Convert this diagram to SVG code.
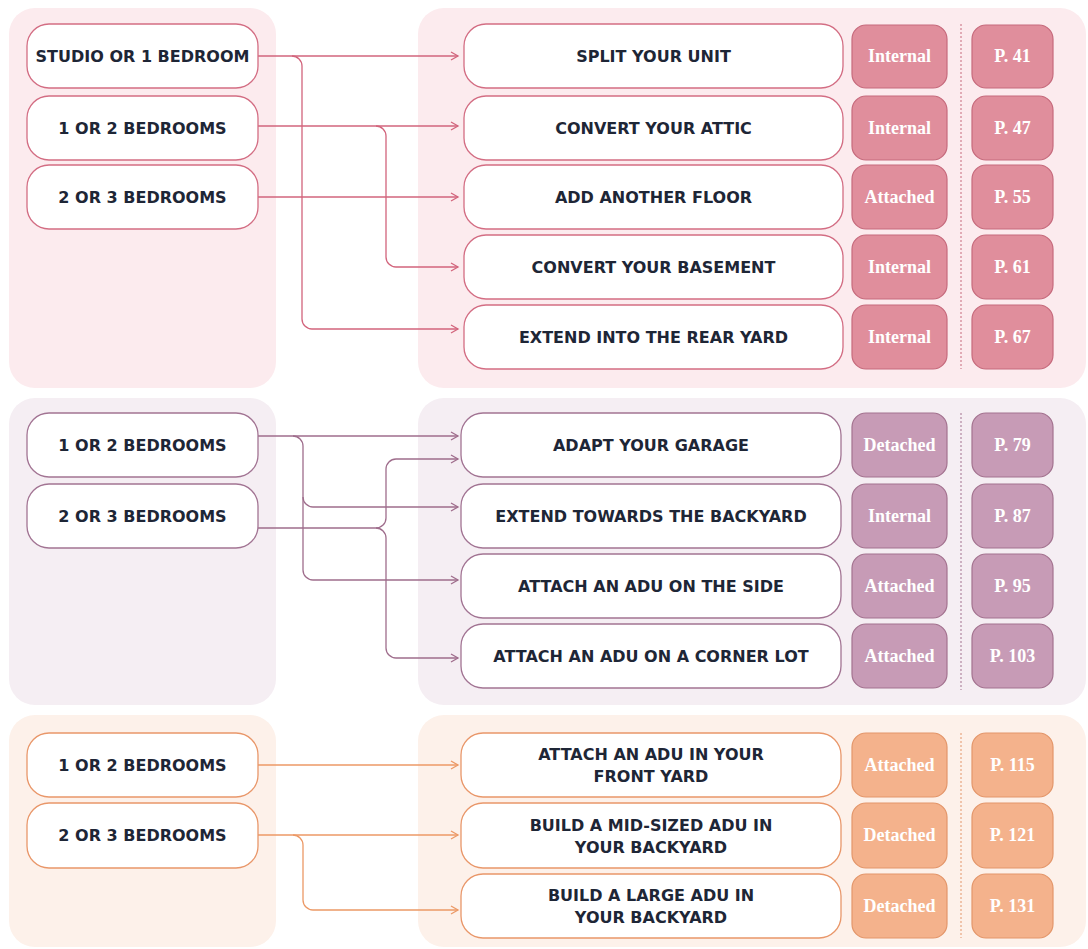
<svg xmlns="http://www.w3.org/2000/svg" width="1088" height="949" viewBox="0 0 1088 949">
<style>
.bg{fill:#ffffff}
.p1{fill:#fcebee}.p2{fill:#f5eef3}.p3{fill:#fdf1ea}
.n1,.n2,.n3{fill:#ffffff;stroke-width:1.3}
.n1{stroke:#d36d83}.n2{stroke:#a27493}.n3{stroke:#e9976a}
.t1,.t2,.t3{stroke-width:1.2}
.t1{fill:#e08e9c;stroke:#c66a7c}.t2{fill:#c79bb6;stroke:#a3728f}.t3{fill:#f4b28c;stroke:#e3966a}
.lab{font-family:"DejaVu Sans","Liberation Sans",sans-serif;font-weight:bold;font-size:16px;fill:#1e2636;text-anchor:middle;dominant-baseline:central}
.tag{font-family:"Liberation Serif","DejaVu Serif",serif;font-weight:bold;font-size:18px;fill:#ffffff;text-anchor:middle;dominant-baseline:central}
.c{fill:none;stroke-width:1.3}
.c1{stroke:#d2647c}.c2{stroke:#9f6d8c}.c3{stroke:#ec9966}
.dot{stroke-width:1;stroke-dasharray:2 2;fill:none}
</style>
<defs>
<marker id="a1" markerUnits="userSpaceOnUse" markerWidth="10" markerHeight="10" refX="8" refY="5" orient="auto"><path d="M1,1 L8,5 L1,9" fill="none" stroke="#d2647c" stroke-width="1.3"/></marker>
<marker id="a2" markerUnits="userSpaceOnUse" markerWidth="10" markerHeight="10" refX="8" refY="5" orient="auto"><path d="M1,1 L8,5 L1,9" fill="none" stroke="#9f6d8c" stroke-width="1.3"/></marker>
<marker id="a3" markerUnits="userSpaceOnUse" markerWidth="10" markerHeight="10" refX="8" refY="5" orient="auto"><path d="M1,1 L8,5 L1,9" fill="none" stroke="#ec9966" stroke-width="1.3"/></marker>
</defs>
<rect class="bg" width="1088" height="949"/>
<g id="panels">
<rect class="p1" x="9" y="8" width="267" height="380" rx="26"/>
<rect class="p1" x="418" y="8" width="668" height="380" rx="26"/>
<rect class="p2" x="9" y="398" width="267" height="307" rx="26"/>
<rect class="p2" x="418" y="398" width="668" height="307" rx="26"/>
<rect class="p3" x="9" y="715" width="267" height="232" rx="26"/>
<rect class="p3" x="418" y="715" width="668" height="232" rx="26"/>
<line class="dot" x1="961" y1="24" x2="961" y2="369" stroke="#c66a7c"/>
<line class="dot" x1="961" y1="413" x2="961" y2="690" stroke="#a3728f"/>
<line class="dot" x1="961" y1="733" x2="961" y2="938" stroke="#e3966a"/>
</g>
<g id="connectors">
<path class="c c1" d="M258,56 H458" marker-end="url(#a1)"/>
<path class="c c1" d="M292,56 a10,10 0 0 1 10,10 V319 a10,10 0 0 0 10,10 H458" marker-end="url(#a1)"/>
<path class="c c1" d="M258,126 H458" marker-end="url(#a1)"/>
<path class="c c1" d="M376,126 a10,10 0 0 1 10,10 V257 a10,10 0 0 0 10,10 H458" marker-end="url(#a1)"/>
<path class="c c1" d="M258,197 H458" marker-end="url(#a1)"/>
<path class="c c2" d="M258,436 H458" marker-end="url(#a2)"/>
<path class="c c2" d="M293,436 a10,10 0 0 1 10,10 V570 a10,10 0 0 0 10,10 H458" marker-end="url(#a2)"/>
<path class="c c2" d="M303,497 a10,10 0 0 0 10,10 H458" marker-end="url(#a2)"/>
<path class="c c2" d="M258,528 H376 a10,10 0 0 0 10,-10 V469 a10,10 0 0 1 10,-10 H458" marker-end="url(#a2)"/>
<path class="c c2" d="M376,528 a10,10 0 0 1 10,10 V648 a10,10 0 0 0 10,10 H458" marker-end="url(#a2)"/>
<path class="c c3" d="M258,765 H458" marker-end="url(#a3)"/>
<path class="c c3" d="M258,835 H458" marker-end="url(#a3)"/>
<path class="c c3" d="M293,835 a10,10 0 0 1 10,10 V900 a10,10 0 0 0 10,10 H458" marker-end="url(#a3)"/>
</g>
<g id="s1-studio"><rect class="n1" x="27" y="24" width="231" height="64" rx="22"/><text class="lab" x="142.5" y="56">STUDIO OR 1 BEDROOM</text></g>
<g id="s1-12"><rect class="n1" x="27" y="96" width="231" height="64" rx="22"/><text class="lab" x="142.5" y="128">1 OR 2 BEDROOMS</text></g>
<g id="s1-23"><rect class="n1" x="27" y="165" width="231" height="64" rx="22"/><text class="lab" x="142.5" y="197">2 OR 3 BEDROOMS</text></g>
<g id="split"><rect class="n1" x="464" y="24" width="379" height="64" rx="22"/><text class="lab" x="653.5" y="56">SPLIT YOUR UNIT</text><rect class="t1" x="852" y="25" width="95" height="63" rx="14"/><text class="tag" x="899.5" y="56">Internal</text><rect class="t1" x="972" y="25" width="81" height="63" rx="14"/><text class="tag" x="1012.5" y="56">P. 41</text></g>
<g id="attic"><rect class="n1" x="464" y="96" width="379" height="64" rx="22"/><text class="lab" x="653.5" y="128">CONVERT YOUR ATTIC</text><rect class="t1" x="852" y="96" width="95" height="64" rx="14"/><text class="tag" x="899.5" y="128">Internal</text><rect class="t1" x="972" y="96" width="81" height="64" rx="14"/><text class="tag" x="1012.5" y="128">P. 47</text></g>
<g id="floor"><rect class="n1" x="464" y="165" width="379" height="64" rx="22"/><text class="lab" x="653.5" y="197">ADD ANOTHER FLOOR</text><rect class="t1" x="852" y="165" width="95" height="64" rx="14"/><text class="tag" x="899.5" y="197">Attached</text><rect class="t1" x="972" y="165" width="81" height="64" rx="14"/><text class="tag" x="1012.5" y="197">P. 55</text></g>
<g id="basement"><rect class="n1" x="464" y="235" width="379" height="64" rx="22"/><text class="lab" x="653.5" y="267">CONVERT YOUR BASEMENT</text><rect class="t1" x="852" y="235" width="95" height="64" rx="14"/><text class="tag" x="899.5" y="267">Internal</text><rect class="t1" x="972" y="235" width="81" height="64" rx="14"/><text class="tag" x="1012.5" y="267">P. 61</text></g>
<g id="rear"><rect class="n1" x="464" y="305" width="379" height="64" rx="22"/><text class="lab" x="653.5" y="337">EXTEND INTO THE REAR YARD</text><rect class="t1" x="852" y="305" width="95" height="64" rx="14"/><text class="tag" x="899.5" y="337">Internal</text><rect class="t1" x="972" y="305" width="81" height="64" rx="14"/><text class="tag" x="1012.5" y="337">P. 67</text></g>
<g id="s2-12"><rect class="n2" x="27" y="413" width="231" height="64" rx="22"/><text class="lab" x="142.5" y="445">1 OR 2 BEDROOMS</text></g>
<g id="s2-23"><rect class="n2" x="27" y="484" width="231" height="64" rx="22"/><text class="lab" x="142.5" y="516">2 OR 3 BEDROOMS</text></g>
<g id="garage"><rect class="n2" x="461" y="413" width="380" height="64" rx="22"/><text class="lab" x="651" y="445">ADAPT YOUR GARAGE</text><rect class="t2" x="852" y="413" width="95" height="64" rx="14"/><text class="tag" x="899.5" y="445">Detached</text><rect class="t2" x="972" y="413" width="81" height="64" rx="14"/><text class="tag" x="1012.5" y="445">P. 79</text></g>
<g id="backyard"><rect class="n2" x="461" y="484" width="380" height="64" rx="22"/><text class="lab" x="651" y="516">EXTEND TOWARDS THE BACKYARD</text><rect class="t2" x="852" y="484" width="95" height="64" rx="14"/><text class="tag" x="899.5" y="516">Internal</text><rect class="t2" x="972" y="484" width="81" height="64" rx="14"/><text class="tag" x="1012.5" y="516">P. 87</text></g>
<g id="side"><rect class="n2" x="461" y="554" width="380" height="64" rx="22"/><text class="lab" x="651" y="586">ATTACH AN ADU ON THE SIDE</text><rect class="t2" x="852" y="554" width="95" height="64" rx="14"/><text class="tag" x="899.5" y="586">Attached</text><rect class="t2" x="972" y="554" width="81" height="64" rx="14"/><text class="tag" x="1012.5" y="586">P. 95</text></g>
<g id="corner"><rect class="n2" x="461" y="624" width="380" height="64" rx="22"/><text class="lab" x="651" y="656">ATTACH AN ADU ON A CORNER LOT</text><rect class="t2" x="852" y="624" width="95" height="64" rx="14"/><text class="tag" x="899.5" y="656">Attached</text><rect class="t2" x="972" y="624" width="81" height="64" rx="14"/><text class="tag" x="1012.5" y="656">P. 103</text></g>
<g id="s3-12"><rect class="n3" x="27" y="733" width="231" height="64" rx="22"/><text class="lab" x="142.5" y="765">1 OR 2 BEDROOMS</text></g>
<g id="s3-23"><rect class="n3" x="27" y="803" width="231" height="65" rx="22"/><text class="lab" x="142.5" y="835">2 OR 3 BEDROOMS</text></g>
<g id="front"><rect class="n3" x="461" y="733" width="380" height="64" rx="22"/><text class="lab" x="651" y="754">ATTACH AN ADU IN YOUR</text><text class="lab" x="651" y="776">FRONT YARD</text><rect class="t3" x="852" y="733" width="95" height="64" rx="14"/><text class="tag" x="899.5" y="765">Attached</text><rect class="t3" x="972" y="733" width="81" height="64" rx="14"/><text class="tag" x="1012.5" y="765">P. 115</text></g>
<g id="mid"><rect class="n3" x="461" y="803" width="380" height="65" rx="22"/><text class="lab" x="651" y="825">BUILD A MID-SIZED ADU IN</text><text class="lab" x="651" y="847">YOUR BACKYARD</text><rect class="t3" x="852" y="803" width="95" height="65" rx="14"/><text class="tag" x="899.5" y="835">Detached</text><rect class="t3" x="972" y="803" width="81" height="65" rx="14"/><text class="tag" x="1012.5" y="835">P. 121</text></g>
<g id="large"><rect class="n3" x="461" y="874" width="380" height="64" rx="22"/><text class="lab" x="651" y="895">BUILD A LARGE ADU IN</text><text class="lab" x="651" y="917">YOUR BACKYARD</text><rect class="t3" x="852" y="874" width="95" height="64" rx="14"/><text class="tag" x="899.5" y="906">Detached</text><rect class="t3" x="972" y="874" width="81" height="64" rx="14"/><text class="tag" x="1012.5" y="906">P. 131</text></g>
</svg>
